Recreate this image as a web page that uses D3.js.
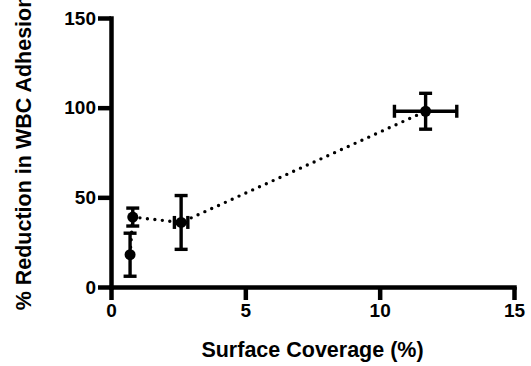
<!DOCTYPE html>
<html>
<head>
<meta charset="utf-8">
<script src="https://cdn.jsdelivr.net/npm/d3@7"></script>
<style>
  body { margin: 0; background: white; }
</style>
</head>
<body>
<div id="chart"></div>
<script>
// data
const coverage = [0.71, 0.81, 2.61, 11.71];
const coverageErr = [0, 0, 0.25, 1.16];
const reduction = [18, 39, 36, 98];
const reductionErr = [12, 5, 15, 10];
const xTicks = [0, 5, 10, 15];
const yTicks = [0, 50, 100, 150];

const width = 531, height = 366;
const margin = {left: 111, right: 17, top: 18, bottom: 79};
const font = "'Liberation Sans', Arial, sans-serif";

let svg = d3.select("#chart")
    .append("svg")
    .attr("width", width)
    .attr("height", height);

let x = d3.scaleLinear().domain([0, 15]).range([margin.left, width - margin.right]);
let y = d3.scaleLinear().domain([0, 150]).range([height - margin.bottom, margin.top]);

let points = coverage.map(function(d, i) {
    return {x: d, xe: coverageErr[i], y: reduction[i], ye: reductionErr[i]};
});

// axes
let xAxis = svg.append("g")
    .attr("transform", `translate(0, ${y(0)})`)
    .call(d3.axisBottom(x).tickValues(xTicks).tickSize(13).tickSizeOuter(0).tickPadding(4));
let yAxis = svg.append("g")
    .attr("transform", `translate(${x(0)}, 0)`)
    .call(d3.axisLeft(y).tickValues(yTicks).tickSize(13).tickSizeOuter(0).tickPadding(2));

[xAxis, yAxis].forEach(function(a) {
    a.attr("font-family", font).attr("font-weight", 700).attr("font-size", 19);
    a.select(".domain").attr("stroke-width", 4.5).attr("stroke-linecap", "square");
    a.selectAll(".tick line").attr("stroke-width", 4.5);
    a.selectAll(".tick text").attr("fill", "black");
});

// dotted connecting line
svg.append("path")
    .datum(points)
    .attr("fill", "none")
    .attr("stroke", "black")
    .attr("stroke-width", 3.4)
    .attr("stroke-linecap", "round")
    .attr("stroke-dasharray", "0,7.5")
    .attr("d", d3.line().x(d => x(d.x)).y(d => y(d.y)));

// error bars
let cap = 6.5;
let err = svg.append("g").attr("stroke", "black").attr("stroke-width", 3.4);
points.forEach(function(d) {
    if (d.ye > 0) {
        err.append("line").attr("x1", x(d.x)).attr("x2", x(d.x))
            .attr("y1", y(d.y - d.ye)).attr("y2", y(d.y + d.ye));
        [d.y - d.ye, d.y + d.ye].forEach(function(v) {
            err.append("line").attr("x1", x(d.x) - cap).attr("x2", x(d.x) + cap)
                .attr("y1", y(v)).attr("y2", y(v));
        });
    }
    if (d.xe > 0) {
        err.append("line").attr("y1", y(d.y)).attr("y2", y(d.y))
            .attr("x1", x(d.x - d.xe)).attr("x2", x(d.x + d.xe));
        [d.x - d.xe, d.x + d.xe].forEach(function(v) {
            err.append("line").attr("y1", y(d.y) - cap).attr("y2", y(d.y) + cap)
                .attr("x1", x(v)).attr("x2", x(v));
        });
    }
});

// markers
svg.append("g")
    .selectAll("circle")
    .data(points)
    .enter()
    .append("circle")
    .attr("cx", d => x(d.x))
    .attr("cy", d => y(d.y))
    .attr("r", 5.5)
    .attr("fill", "black");

// axis titles
svg.append("text")
    .attr("x", (x(0) + x(15)) / 2)
    .attr("y", 357)
    .attr("text-anchor", "middle")
    .attr("font-family", font)
    .attr("font-weight", 700)
    .attr("font-size", 21.5)
    .text("Surface Coverage (%)");

svg.append("text")
    .attr("transform", `translate(31, ${(y(0) + y(150)) / 2}) rotate(-90)`)
    .attr("text-anchor", "middle")
    .attr("font-family", font)
    .attr("font-weight", 700)
    .attr("font-size", 21.5)
    .text("% Reduction in WBC Adhesion");
</script>
</body>
</html>
